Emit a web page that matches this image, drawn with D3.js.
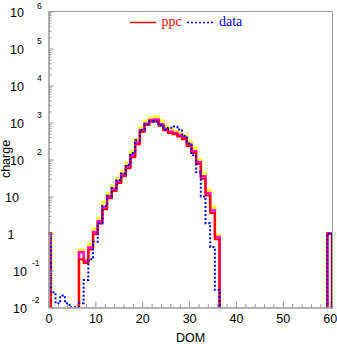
<!DOCTYPE html>
<html><head><meta charset="utf-8">
<script src="https://cdn.jsdelivr.net/npm/d3@7"></script>
<style>body{margin:0;background:#fff}svg{display:block}</style>
</head><body>
<svg id="c" width="337" height="344"></svg>
<script>
// DOM bins (centered on integers); bins 38..58 are empty
const dom     = [0,1,2,3,4,5,6,7,8,9,10,11,12,13,14,15,16,17,18,19,20,21,22,23,24,25,26,27,28,29,30,31,32,33,34,35,36,37,59,60];
const ppcHigh = [1,0,0,0,0,0,0,0.36,0.2,0.5,1.35,2.6,7,12,19,30,46,80,160,350,720,1100,1300,1400,1100,780,650,580,520,440,300,200,100,42,14.5,5.1,0.9,0,0,1];
const ppcMid  = [1,0,0,0,0,0,0,0.31,0.18,0.42,1.1,2.15,5.2,10.2,16,26,40,66,130,290,620,930,1150,1200,900,680,570,520,460,385,255,168,84,35,12.5,4.2,0.8,0,0,1];
const ppc     = [1,0,0,0,0,0,0,0.2,0.16,0.37,0.95,1.85,4.5,9,14,23,35,58,115,260,560,850,1050,1120,820,620,520,480,420,350,230,150,75,30,10.6,3.6,0.7,0,0,1];
const data    = [1,0.026,0.013,0.021,0.013,0.0102,0.0102,0.013,0.055,0.2,0.6,1.9,5.5,10.5,17,28,42,72,150,330,640,900,1080,1050,850,650,720,780,650,430,270,130,45,10,1.9,0.43,0.03,0,0,1];

const xMajor = [0,10,20,30,40,50,60];
const xMinor = [2,4,6,8,12,14,16,18,22,24,26,28,32,34,36,38,42,44,46,48,52,54,56,58];
const yExp   = [-2,-1,0,1,2,3,4,5,6];
const legendNames = ["ppc","data"];

const svg = d3.select("#c");
const L=48.5, R=332.5, T=11.5, B=307.5;
const x = d3.scaleLinear().domain([0,60.6]).range([L,R]);
const y = d3.scaleLog().domain([1e-2,1e6]).range([B,T]);
const FLOOR = 1e-3;
const gray = "#999";
const sans = "'Liberation Sans',Arial,sans-serif";

svg.append("defs").append("clipPath").attr("id","clip")
  .append("rect").attr("x",L).attr("y",T).attr("width",R-L).attr("height",B-T);

function steps(vals){
  const pts=[[dom[0]-0.5,FLOOR]];
  dom.forEach((d,i)=>{const v=vals[i]>0?vals[i]:FLOOR; pts.push([d-0.5,v]); pts.push([d+0.5,v]);});
  pts.push([dom[dom.length-1]+0.5,FLOOR]);
  return pts;
}
const line = d3.line().x(d=>x(d[0])).y(d=>y(d[1]));
const g = svg.append("g").attr("clip-path","url(#clip)");
g.append("path").attr("d",line(steps(ppcHigh))).attr("fill","none").attr("stroke","#ffff00").attr("stroke-width",3);
g.append("path").attr("d",line(steps(ppcMid))).attr("fill","none").attr("stroke","#ff00ff").attr("stroke-width",2.5);
g.append("path").attr("d",line(steps(ppc))).attr("fill","none").attr("stroke","#ff0000").attr("stroke-width",2);
g.append("path").attr("d",line(steps(data))).attr("fill","none").attr("stroke","#0000ff").attr("stroke-width",2).attr("stroke-dasharray","2,2");

// frame
svg.append("path").attr("d",`M${L},${T}H${R}V${B}`).attr("fill","none").attr("stroke",gray);

// x axis
const xa = svg.append("g").attr("transform",`translate(0,${B})`)
  .call(d3.axisBottom(x).tickValues(xMajor).tickSizeInner(-6).tickSizeOuter(0).tickPadding(7).tickFormat(d3.format("d")));
svg.append("g").attr("transform",`translate(0,${B})`)
  .call(d3.axisBottom(x).tickValues(xMinor).tickSizeInner(-3.5).tickSizeOuter(0).tickFormat(""));
// y axis
const minors=[];
yExp.slice(0,-1).forEach(k=>{for(let m=2;m<=9;m++) minors.push(m*Math.pow(10,k));});
svg.append("g").attr("transform",`translate(${L},0)`)
  .call(d3.axisLeft(y).tickValues(yExp.map(k=>Math.pow(10,k))).tickSizeInner(-5).tickSizeOuter(0).tickFormat(""));
svg.append("g").attr("transform",`translate(${L},0)`)
  .call(d3.axisLeft(y).tickValues(minors).tickSizeInner(-3).tickSizeOuter(0).tickFormat(""));
svg.selectAll(".domain").attr("stroke",gray);
svg.selectAll(".tick line").attr("stroke",gray);
xa.selectAll("text").attr("font-family",sans).attr("font-size",12.5).attr("fill","#000");

// y labels
const yl = svg.append("g").attr("font-family",sans).attr("fill","#000");
yExp.forEach(k=>{
  const ty = y(Math.pow(10,k));
  const t = yl.append("text").attr("y",ty+5).attr("font-size",12.5);
  if(k===0){ t.attr("x",7.5).text("1"); }
  else if(k===1){ t.attr("x",5).text("10"); }
  else {
    const neg = k<0;
    t.append("tspan").attr("x",neg?13:10).text("10");
    t.append("tspan").attr("x",neg?32:37).attr("y",k===6?ty-3:ty-5).attr("font-size",8.5).text(String(k));
  }
});

// titles
svg.append("text").attr("transform",`translate(9.5,159) rotate(-90)`).attr("text-anchor","middle")
  .attr("font-family",sans).attr("font-size",12.5).text("charge");
svg.append("text").attr("x",(L+R)/2).attr("y",342).attr("text-anchor","middle")
  .attr("font-family",sans).attr("font-size",12.5).text("DOM");

// legend
const lg = svg.append("g").attr("font-family","'Liberation Serif','Times New Roman',serif").attr("font-size",14);
lg.append("line").attr("x1",130).attr("x2",156).attr("y1",22.5).attr("y2",22.5).attr("stroke","#ff0000").attr("stroke-width",1.5);
lg.append("text").attr("x",161.5).attr("y",26).attr("fill","#ff0000").text(legendNames[0]);
lg.append("line").attr("x1",187).attr("x2",215).attr("y1",22.5).attr("y2",22.5).attr("stroke","#0000ff").attr("stroke-width",1.5).attr("stroke-dasharray","2,2");
lg.append("text").attr("x",219).attr("y",26).attr("fill","#0000ff").text(legendNames[1]);
</script>
</body></html>
